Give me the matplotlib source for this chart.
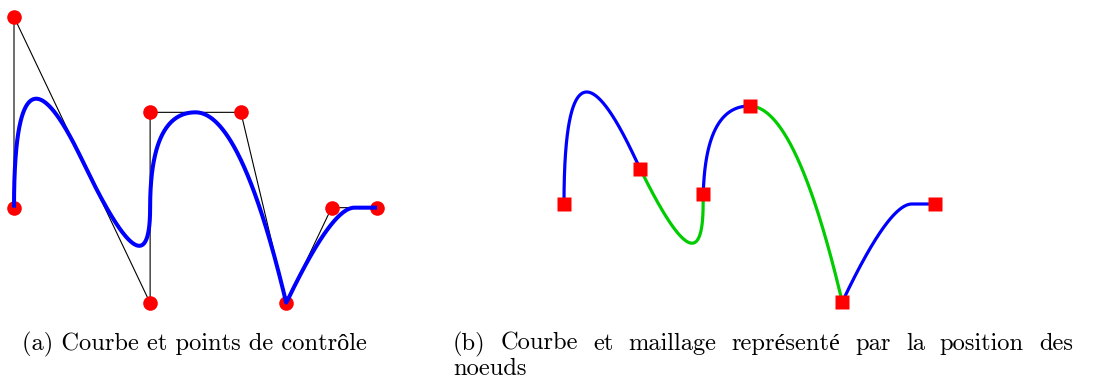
import numpy as np
import matplotlib
matplotlib.use("Agg")
import matplotlib.pyplot as plt

# ---- data ----
ctrl_x = [0, 0, 3, 3, 5, 6, 7, 8]          # control polygon
ctrl_y = [2, 6, 0, 4, 4, 0, 2, 2]
degree = 2
# the drawn curve repeats the last control point
curve_knots = [0, 0, 0, 1, 2, 3, 4, 4, 4.5, 5, 5, 5]
# parameter values where the mesh markers / colour changes sit
mark_u = [0, 1.05, 2.05, 3.0, 4.0, 5.0]
span_colors = ["#0000ff", "#00cc00", "#0000ff", "#00cc00", "#0000ff"]
caption_a = "(a) Courbe et points de contrôle"
caption_b_line1 = "(b) Courbe et maillage représenté par la position des"
caption_b_line2 = "noeuds"

plt.rcParams["font.family"] = ["cmr10", "Liberation Serif"]
plt.rcParams["axes.formatter.use_mathtext"] = True

cx = list(ctrl_x) + [ctrl_x[-1]]
cy = list(ctrl_y) + [ctrl_y[-1]]


def basis(i, p, u, U):
    if p == 0:
        if U[i] <= u < U[i + 1]:
            return 1.0
        if u == U[-1] and U[i] < U[i + 1] == U[-1]:
            return 1.0
        return 0.0
    a = 0.0
    d1 = U[i + p] - U[i]
    if d1 > 0:
        a = (u - U[i]) / d1 * basis(i, p - 1, u, U)
    b = 0.0
    d2 = U[i + p + 1] - U[i + 1]
    if d2 > 0:
        b = (U[i + p + 1] - u) / d2 * basis(i + 1, p - 1, u, U)
    return a + b


def curve(us):
    P = np.column_stack([cx, cy]).astype(float)
    out = []
    for u in us:
        w = np.array([basis(i, degree, u, curve_knots) for i in range(len(cx))])
        out.append(w @ P)
    return np.array(out)


fig = plt.figure(figsize=(10.94, 3.78), dpi=100)
W, H = 1094.0, 378.0

# ---- left panel ----
axl = fig.add_axes([14 / W, (H - 303) / H, 363 / W, 286 / H])
axl.set_xlim(0, 8)
axl.set_ylim(0, 6)
axl.axis("off")
axl.plot(ctrl_x, ctrl_y, color="black", lw=0.8, clip_on=False, zorder=1)
axl.plot(ctrl_x, ctrl_y, "o", color="#ff0000", ms=10.5, mec="none",
         clip_on=False, zorder=2)
uu = np.linspace(curve_knots[0], curve_knots[-1], 800)
C = curve(uu)
axl.plot(C[:, 0], C[:, 1], color="#0000ff", lw=2.9, solid_capstyle="butt",
         solid_joinstyle="round", clip_on=False, zorder=3)

# ---- right panel ----
axr = fig.add_axes([564 / W, (H - 302) / H, 371 / W, 196 / H])
axr.set_xlim(0, 8)
axr.set_ylim(0, 4)
axr.axis("off")
for k in range(len(mark_u) - 1):
    us = np.linspace(mark_u[k], mark_u[k + 1], 250)
    S = curve(us)
    axr.plot(S[:, 0], S[:, 1], color=span_colors[k], lw=2.3,
             solid_capstyle="butt", solid_joinstyle="round",
             clip_on=False, zorder=2)
K = curve(mark_u)
axr.plot(K[:, 0], K[:, 1], "s", color="#ff0000", ms=10, mec="none",
         clip_on=False, zorder=3, ls="none")

# ---- captions ----
fs = 17.6
fig.text(22 / W, (H - 350) / H, caption_a, fontsize=fs, ha="left",
         va="baseline")

# justified first line of caption (b)
x0, x1 = 453.0, 1073.0
words = caption_b_line1.split(" ")
fig.canvas.draw()
r = fig.canvas.get_renderer()
objs = []
widths = []
for w in words:
    t = fig.text(0, (H - 350) / H, w, fontsize=fs, ha="left", va="baseline")
    objs.append(t)
    widths.append(t.get_window_extent(renderer=r).width)
gap = (x1 - x0 - sum(widths)) / (len(words) - 1)
x = x0
for t, wd in zip(objs, widths):
    t.set_x(x / W)
    x += wd + gap
fig.text(x0 / W, (H - 375) / H, caption_b_line2, fontsize=fs, ha="left",
         va="baseline")

fig.savefig("out.png", dpi=100, facecolor="white")
